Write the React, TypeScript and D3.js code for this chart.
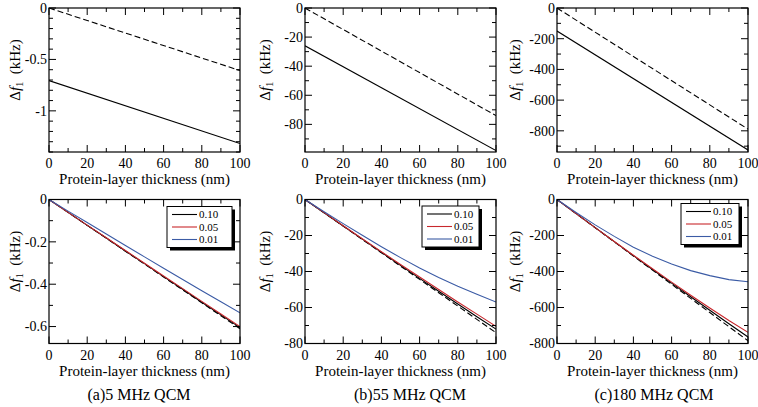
import React from "react";
import * as d3 from "d3";

// ---------- DATA ----------
const thickness = [0, 10, 20, 30, 40, 50, 60, 70, 80, 90, 100];
const thicknessTop = [0, 100];

// top row (solid / dashed)
const top5Solid = [-0.706, -1.317];
const top5Dashed = [0, -0.608];
const top55Solid = [-26, -98];
const top55Dashed = [0, -74];
const top180Solid = [-150, -925];
const top180Dashed = [0, -789];

// bottom row, 5 MHz
const b5Dashed = [0, -0.061, -0.122, -0.183, -0.244, -0.305, -0.366, -0.427, -0.488, -0.549, -0.61];
const b5k010 = [0, -0.061, -0.122, -0.182, -0.243, -0.303, -0.364, -0.424, -0.485, -0.545, -0.605];
const b5k005 = [0, -0.061, -0.121, -0.181, -0.241, -0.301, -0.361, -0.421, -0.481, -0.541, -0.6];
const b5k001 = [0, -0.055, -0.109, -0.163, -0.217, -0.271, -0.325, -0.378, -0.431, -0.483, -0.535];

// bottom row, 55 MHz
const b55Dashed = [0, -7.4, -14.8, -22.2, -29.6, -37, -44.4, -51.8, -59.2, -66.6, -74];
const b55k010 = [0, -7.35, -14.7, -22, -29.3, -36.6, -43.8, -51, -58.1, -65.1, -72];
const b55k005 = [0, -7.3, -14.6, -21.8, -29, -36.1, -43.1, -50, -56.9, -63.7, -70.5];
const b55k001 = [0, -6.8, -13.4, -19.9, -26.2, -32.3, -38.1, -43.3, -48.2, -52.7, -57];

// bottom row, 180 MHz
const b180Dashed = [0, -78.5, -157, -235.5, -314, -392.5, -471, -549.5, -628, -706.5, -785];
const b180k010 = [0, -78.3, -156.4, -234.2, -311.6, -388.5, -464.8, -540.5, -615.6, -690, -764];
const b180k005 = [0, -78.2, -156, -233.2, -309.6, -385, -459.2, -532, -603.2, -672.6, -738];
const b180k001 = [0, -72, -141, -205, -265, -315, -358, -395, -423, -445, -457];

const legendLabels = ["0.10", "0.05", "0.01"];
const captions = ["(a)5 MHz QCM", "(b)55 MHz QCM", "(c)180 MHz QCM"];
const xTickValues = [0, 20, 40, 60, 80, 100];
const xMinorValues = [10, 30, 50, 70, 90];
const xTitle = "Protein-layer thickness (nm)";

// ---------- LAYOUT / STYLE ----------
const FONT = "'Liberation Serif', 'Times New Roman', serif";
const colLeft = [49, 305, 557];
const colWidth = 191;
const rowTop = [8, 199.5];
const rowHeight = 144;
const yLabelOffset = [34, 40, 42];
const captionX = [139, 410, 654];
const RED = "#c8282d";
const BLUE = "#3b5ba5";
const BLACK = "#000";

type Series = { x: number[]; y: number[]; color: string; dash?: string };
type LegendBox = { dx: number; dy: number; w: number; h: number };
type PanelSpec = {
  col: number;
  row: number;
  yDomain: [number, number];
  yMajor: number;
  yMinor: number;
  series: Series[];
  legend?: LegendBox;
};

const panels: PanelSpec[] = [
  {
    col: 0, row: 0, yDomain: [-1.4, 0], yMajor: 0.5, yMinor: 0.1,
    series: [
      { x: thicknessTop, y: top5Dashed, color: BLACK, dash: "6,3" },
      { x: thicknessTop, y: top5Solid, color: BLACK },
    ],
  },
  {
    col: 1, row: 0, yDomain: [-99, 0], yMajor: 20, yMinor: 10,
    series: [
      { x: thicknessTop, y: top55Dashed, color: BLACK, dash: "6,3" },
      { x: thicknessTop, y: top55Solid, color: BLACK },
    ],
  },
  {
    col: 2, row: 0, yDomain: [-938, 0], yMajor: 200, yMinor: 100,
    series: [
      { x: thicknessTop, y: top180Dashed, color: BLACK, dash: "6,3" },
      { x: thicknessTop, y: top180Solid, color: BLACK },
    ],
  },
  {
    col: 0, row: 1, yDomain: [-0.68, 0], yMajor: 0.2, yMinor: 0.1,
    series: [
      { x: thickness, y: b5Dashed, color: BLACK, dash: "6,3" },
      { x: thickness, y: b5k010, color: BLACK },
      { x: thickness, y: b5k005, color: RED },
      { x: thickness, y: b5k001, color: BLUE },
    ],
    legend: { dx: -73, dy: 7, w: 65, h: 41 },
  },
  {
    col: 1, row: 1, yDomain: [-80, 0], yMajor: 20, yMinor: 10,
    series: [
      { x: thickness, y: b55Dashed, color: BLACK, dash: "6,3" },
      { x: thickness, y: b55k010, color: BLACK },
      { x: thickness, y: b55k005, color: RED },
      { x: thickness, y: b55k001, color: BLUE },
    ],
    legend: { dx: -74, dy: 6.5, w: 57, h: 41 },
  },
  {
    col: 2, row: 1, yDomain: [-800, 0], yMajor: 200, yMinor: 100,
    series: [
      { x: thickness, y: b180Dashed, color: BLACK, dash: "6,3" },
      { x: thickness, y: b180k010, color: BLACK },
      { x: thickness, y: b180k005, color: RED },
      { x: thickness, y: b180k001, color: BLUE },
    ],
    legend: { dx: -67, dy: 4, w: 58, h: 41 },
  },
];

const fmt = (v: number) => String(+v.toFixed(3));

function Panel({ p }: { p: PanelSpec }) {
  const left = colLeft[p.col];
  const top = rowTop[p.row];
  const w = colWidth;
  const h = rowHeight;
  const x = d3.scaleLinear().domain([0, 100]).range([left, left + w]);
  const y = d3.scaleLinear().domain(p.yDomain).range([top + h, top]);
  const eps = 1e-9;
  const yMajors = d3.range(0, p.yDomain[0] - eps, -p.yMajor).map((v) => +v.toFixed(6));
  const yMinors = d3
    .range(0, p.yDomain[0] - eps, -p.yMinor)
    .map((v) => +v.toFixed(6))
    .filter((v) => !yMajors.some((m) => Math.abs(m - v) < 1e-6));
  const line = d3
    .line<[number, number]>()
    .x((d) => x(d[0]))
    .y((d) => y(d[1]));
  const MAJ = 7;
  const MIN = 4;
  const colors = [BLACK, RED, BLUE];
  return (
    <g>
      <defs>
        <clipPath id={`clip-${p.col}-${p.row}`}>
          <rect x={left} y={top} width={w} height={h} />
        </clipPath>
      </defs>
      <g clipPath={`url(#clip-${p.col}-${p.row})`}>
        {p.series.map((s, i) => (
          <path
            key={i}
            d={line(s.x.map((xv, j) => [xv, s.y[j]] as [number, number])) || ""}
            fill="none"
            stroke={s.color}
            strokeWidth={1.1}
            strokeDasharray={s.dash}
          />
        ))}
      </g>
      {xTickValues.map((v) => (
        <g key={`xt${v}`}>
          <line x1={x(v)} x2={x(v)} y1={top + h} y2={top + h - MAJ} stroke="#000" strokeWidth={1} />
          <line x1={x(v)} x2={x(v)} y1={top} y2={top + MAJ} stroke="#000" strokeWidth={1} />
          <text x={x(v)} y={top + h + 16} textAnchor="middle" fontSize={14} fontFamily={FONT}>
            {v}
          </text>
        </g>
      ))}
      {xMinorValues.map((v) => (
        <g key={`xm${v}`}>
          <line x1={x(v)} x2={x(v)} y1={top + h} y2={top + h - MIN} stroke="#000" strokeWidth={1} />
          <line x1={x(v)} x2={x(v)} y1={top} y2={top + MIN} stroke="#000" strokeWidth={1} />
        </g>
      ))}
      {yMajors.map((v) => (
        <g key={`yt${v}`}>
          <line x1={left} x2={left + MAJ} y1={y(v)} y2={y(v)} stroke="#000" strokeWidth={1} />
          <line x1={left + w} x2={left + w - MAJ} y1={y(v)} y2={y(v)} stroke="#000" strokeWidth={1} />
          <text x={left - 2} y={y(v)} dy="0.35em" textAnchor="end" fontSize={14} fontFamily={FONT}>
            {fmt(v)}
          </text>
        </g>
      ))}
      {yMinors.map((v) => (
        <g key={`ym${v}`}>
          <line x1={left} x2={left + MIN} y1={y(v)} y2={y(v)} stroke="#000" strokeWidth={1} />
          <line x1={left + w} x2={left + w - MIN} y1={y(v)} y2={y(v)} stroke="#000" strokeWidth={1} />
        </g>
      ))}
      <rect x={left} y={top} width={w} height={h} fill="none" stroke="#000" strokeWidth={1.2} />
      <text x={left + w / 2} y={top + h + 32} textAnchor="middle" fontSize={15} fontFamily={FONT}>
        {xTitle}
      </text>
      <text
        transform={`translate(${left - yLabelOffset[p.col]},${top + h / 2 - 10}) rotate(-90)`}
        textAnchor="middle"
        dominantBaseline="central"
        fontSize={15}
        fontFamily={FONT}
      >
        Δ<tspan fontStyle="italic">f</tspan>
        <tspan fontSize={10} dy={4}>1</tspan>
        <tspan dy={-4}>{"\u00a0\u00a0(kHz)"}</tspan>
      </text>
      {p.legend && (
        <g>
          <rect
            x={left + w + p.legend.dx + 3}
            y={top + p.legend.dy + 3}
            width={p.legend.w}
            height={p.legend.h}
            fill="#000"
          />
          <rect
            x={left + w + p.legend.dx}
            y={top + p.legend.dy}
            width={p.legend.w}
            height={p.legend.h}
            fill="#fff"
            stroke="#000"
            strokeWidth={1}
          />
          {legendLabels.map((lab, i) => {
            const lx = left + w + p.legend!.dx;
            const ly = top + p.legend!.dy + 8 + i * 12.5;
            return (
              <g key={lab}>
                <line x1={lx + 5} x2={lx + 30} y1={ly} y2={ly} stroke={colors[i]} strokeWidth={1.1} />
                <text x={lx + 32} y={ly} dy="0.33em" fontSize={11} fontFamily={FONT}>
                  {lab}
                </text>
              </g>
            );
          })}
        </g>
      )}
    </g>
  );
}

export default function App() {
  return (
    <svg
      width={758}
      height={407}
      style={{ position: "absolute", left: 0, top: 0, background: "#fff" }}
      fontFamily={FONT}
    >
      <rect x={0} y={0} width={758} height={407} fill="#fff" />
      {panels.map((p, i) => (
        <Panel key={i} p={p} />
      ))}
      {captions.map((c, i) => (
        <text key={c} x={captionX[i]} y={400} textAnchor="middle" fontSize={16} fontFamily={FONT}>
          {c}
        </text>
      ))}
    </svg>
  );
}
